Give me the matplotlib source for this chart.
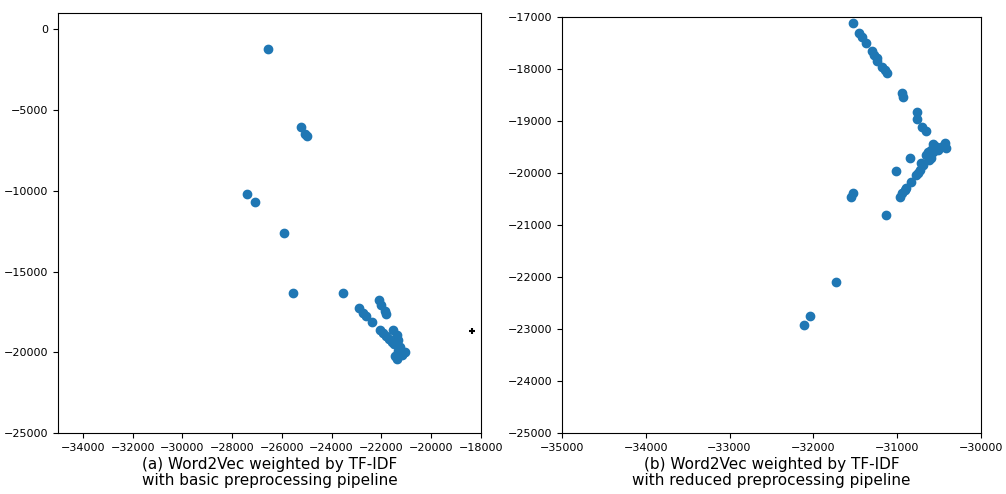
import matplotlib
matplotlib.use("Agg")
import matplotlib.pyplot as plt

# (a) basic preprocessing pipeline - 2D embedding coordinates
basic_x = [-26540, -25250, -25090, -25000, -27390, -27100, -25900, -25570,
           -23560, -22900, -22740, -22630, -22380, -22090, -22000, -21860,
           -21800, -22070, -21930, -21800, -21590, -21530, -21390, -21330,
           -21260, -21060, -21190, -21390, -21450, -21300, -21150, -21680,
           -21500, -21350]
basic_y = [-1250, -6050, -6480, -6600, -10190, -10680, -12590, -16300,
           -16300, -17240, -17550, -17720, -18130, -16790, -17040, -17410,
           -17610, -18600, -18810, -19010, -19370, -18640, -18950, -19260,
           -19670, -19980, -20190, -20390, -20250, -19800, -20050, -19200,
           -19500, -19900]

# outlier marked separately
plus_x = [-18360]
plus_y = [-18700]

# (b) reduced preprocessing pipeline
reduced_x = [-31530, -31450, -31420, -31370, -31305, -31275, -31245, -31235,
             -31175, -31150, -31115, -30940, -30930, -30760, -30760, -30700,
             -30660, -30570, -30430, -30420, -30550, -30530, -30510, -30570,
             -30610, -30650, -30600, -30620, -30630, -30840, -31010, -30690,
             -30730, -30750, -30770, -30830, -30890, -30910, -30940, -30970,
             -31530, -31550, -31130, -31730, -32040, -32110, -30590, -30480,
             -30710]
reduced_y = [-17120, -17310, -17380, -17510, -17650, -17730, -17790, -17840,
             -17955, -18020, -18085, -18455, -18550, -18830, -18960, -19110,
             -19190, -19440, -19420, -19530, -19490, -19525, -19560, -19590,
             -19620, -19650, -19720, -19750, -19590, -19720, -19960, -19850,
             -19940, -20010, -20040, -20180, -20290, -20330, -20390, -20470,
             -20380, -20470, -20810, -22100, -22750, -22920, -19550, -19500,
             -19800]

left_ticks_x = list(range(-34000, -17999, 2000))
left_ticks_y = list(range(-25000, 1, 5000))
right_ticks_x = list(range(-35000, -29999, 1000))
right_ticks_y = list(range(-25000, -16999, 1000))

fig = plt.figure(figsize=(10.06, 4.94), dpi=100)
ax1 = fig.add_axes([0.0577, 0.123, 0.4203, 0.851])
ax2 = fig.add_axes([0.5586, 0.123, 0.4164, 0.843])

# left panel
ax1.scatter(basic_x, basic_y, color="#1f77b4")
ax1.scatter(plus_x, plus_y, marker="+", color="black", s=20)
ax1.set_xlim(-35000, -18000)
ax1.set_ylim(-25000, 1000)
ax1.set_xticks(left_ticks_x)
ax1.set_yticks(left_ticks_y)
ax1.tick_params(labelsize=8)
ax1.set_xlabel("(a) Word2Vec weighted by TF-IDF\nwith basic preprocessing pipeline",
               fontsize=11, labelpad=3, linespacing=1.1)

# right panel
ax2.scatter(reduced_x, reduced_y, color="#1f77b4")
ax2.set_xlim(-35000, -30000)
ax2.set_ylim(-25000, -17000)
ax2.set_xticks(right_ticks_x)
ax2.set_yticks(right_ticks_y)
ax2.tick_params(labelsize=8)
ax2.set_xlabel("(b) Word2Vec weighted by TF-IDF\nwith reduced preprocessing pipeline",
               fontsize=11, labelpad=3, linespacing=1.1)

fig.savefig("out.png", dpi=100)
